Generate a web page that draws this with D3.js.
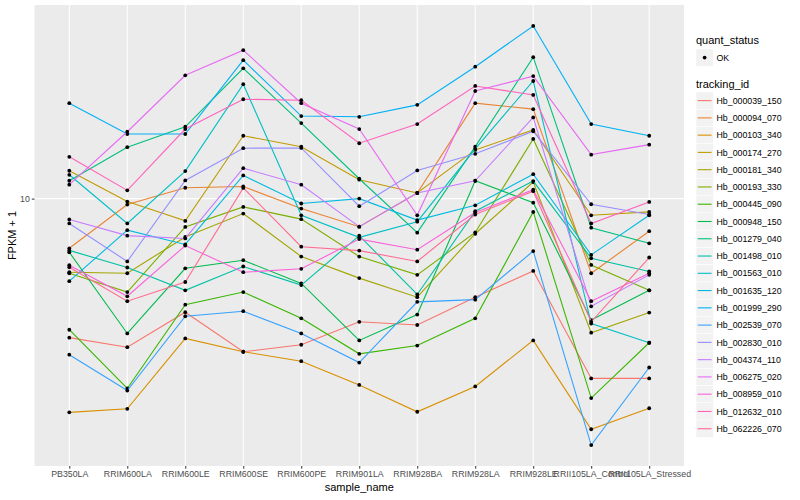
<!DOCTYPE html>
<meta charset="utf-8">
<style>
  body { margin: 0; background: #fff; }
  text { font-family: "Liberation Sans", Arial, Helvetica, sans-serif; }
  .axis .domain { display: none; }
  .axis line { stroke: #333333; }
  .axis text { fill: #4D4D4D; font-size: 8.8px; }
</style>
<svg width="800" height="500"></svg>
<script src="https://d3js.org/d3.v7.min.js"></script>
<script>
  var samples = ["PB350LA", "RRIM600LA", "RRIM600LE", "RRIM600SE", "RRIM600PE", "RRIM901LA",
    "RRIM928BA", "RRIM928LA", "RRIM928LE", "RRII105LA_Control", "RRII105LA_Stressed"];

  var trackingIds = ["Hb_000039_150", "Hb_000094_070", "Hb_000103_340", "Hb_000174_270",
    "Hb_000181_340", "Hb_000193_330", "Hb_000445_090", "Hb_000948_150", "Hb_001279_040",
    "Hb_001498_010", "Hb_001563_010", "Hb_001635_120", "Hb_001999_290", "Hb_002539_070",
    "Hb_002830_010", "Hb_004374_110", "Hb_006275_020", "Hb_008959_010", "Hb_012632_010",
    "Hb_062226_070"];

  // FPKM + 1, one row per tracking_id, one value per sample
  var fpkm = [
    [4.47, 4.23, 5.18, 4.12, 4.29, 4.90, 4.81, 5.65, 6.58, 3.53, 3.53],
    [7.50, 9.66, 10.65, 10.73, 9.44, 8.50, 10.33, 17.38, 16.79, 6.49, 8.28],
    [2.90, 2.96, 4.45, 4.12, 3.90, 3.40, 2.91, 3.37, 4.40, 2.63, 2.97],
    [11.75, 9.83, 8.79, 14.39, 13.51, 11.16, 10.33, 13.26, 14.88, 9.08, 9.26],
    [6.53, 6.49, 8.01, 9.17, 7.15, 6.31, 5.65, 8.16, 11.01, 4.60, 5.17],
    [6.49, 5.82, 8.49, 9.53, 8.88, 7.15, 6.43, 8.22, 14.13, 6.81, 5.88],
    [4.68, 3.33, 5.41, 5.82, 5.00, 4.07, 4.27, 5.00, 9.26, 3.15, 4.34],
    [7.33, 4.58, 6.68, 7.00, 6.12, 4.40, 5.11, 11.09, 9.77, 4.95, 5.88],
    [11.09, 13.47, 15.16, 21.27, 15.49, 11.22, 8.21, 13.51, 22.69, 8.45, 7.72],
    [7.41, 6.71, 5.88, 6.75, 6.06, 8.07, 5.74, 9.30, 11.07, 7.08, 6.56],
    [11.48, 8.66, 11.73, 19.40, 9.08, 7.99, 8.75, 13.34, 19.76, 4.85, 4.34],
    [6.20, 8.33, 7.67, 11.44, 9.72, 10.00, 8.83, 9.62, 11.52, 7.22, 9.08],
    [17.38, 14.54, 14.54, 22.30, 16.13, 16.06, 17.21, 21.47, 27.18, 15.40, 14.39],
    [4.05, 3.29, 5.06, 5.21, 4.58, 3.87, 5.50, 5.57, 7.38, 2.40, 3.76],
    [8.66, 6.95, 11.11, 13.39, 13.41, 9.57, 11.77, 12.96, 14.77, 9.68, 9.12],
    [8.86, 8.07, 7.94, 11.93, 10.84, 8.50, 10.33, 11.09, 16.00, 5.36, 6.43],
    [10.84, 14.73, 20.42, 23.62, 17.38, 14.96, 9.08, 18.65, 20.33, 12.90, 13.67],
    [6.80, 5.68, 7.62, 6.53, 6.66, 7.91, 7.44, 9.23, 10.53, 5.52, 6.49],
    [12.74, 10.49, 14.96, 17.78, 17.68, 13.78, 15.40, 19.20, 18.23, 8.66, 9.81],
    [6.72, 5.52, 6.17, 10.64, 7.57, 7.40, 6.95, 9.12, 10.44, 4.90, 7.11]
  ];

  var yTicks = [10];
  var quantStatus = ["OK"];

  var hues = ["#F8766D", "#EA8331", "#D89000", "#C09B00", "#A3A500", "#7CAE00", "#39B600",
    "#00BB4E", "#00BF7D", "#00C1A3", "#00BFC4", "#00BAE0", "#00B0F6", "#35A2FF", "#9590FF",
    "#C77CFF", "#E76BF3", "#FA62DB", "#FF62BC", "#FF6C91"];

  var svg = d3.select("svg"),
    panel = {left: 34.5, right: 684, top: 5, bottom: 466};

  var x = d3.scalePoint()
    .domain(samples)
    .range([panel.left, panel.right])
    .padding(0.6);

  // log scale, limits = data range expanded by 5% like ggplot
  var all = d3.merge(fpkm),
    lo = Math.log10(d3.min(all)),
    hi = Math.log10(d3.max(all)),
    pad = (hi - lo) * 0.05;

  var y = d3.scaleLog()
    .domain([Math.pow(10, lo - pad), Math.pow(10, hi + pad)])
    .range([panel.bottom, panel.top]);

  var color = d3.scaleOrdinal(trackingIds, hues);

  // panel background + grid
  svg.append("rect")
    .attr("x", panel.left).attr("y", panel.top)
    .attr("width", panel.right - panel.left)
    .attr("height", panel.bottom - panel.top)
    .attr("fill", "#EBEBEB");

  svg.append("g").selectAll("line")
    .data(samples)
    .enter().append("line")
    .attr("x1", function(d) { return x(d); })
    .attr("x2", function(d) { return x(d); })
    .attr("y1", panel.top).attr("y2", panel.bottom)
    .attr("stroke", "#fff").attr("stroke-width", 1.1);

  svg.append("g").selectAll("line")
    .data(yTicks)
    .enter().append("line")
    .attr("x1", panel.left).attr("x2", panel.right)
    .attr("y1", function(d) { return y(d); })
    .attr("y2", function(d) { return y(d); })
    .attr("stroke", "#fff").attr("stroke-width", 1.1);

  // series
  var line = d3.line()
    .x(function(d, i) { return x(samples[i]); })
    .y(function(d) { return y(d); });

  var series = svg.append("g").selectAll("g")
    .data(trackingIds)
    .enter().append("g");

  series.append("path")
    .attr("d", function(d, i) { return line(fpkm[i]); })
    .attr("fill", "none")
    .attr("stroke", function(d) { return color(d); })
    .attr("stroke-width", 1.1);

  series.each(function(d, i) {
    d3.select(this).selectAll("circle")
      .data(fpkm[i])
      .enter().append("circle")
      .attr("cx", function(v, j) { return x(samples[j]); })
      .attr("cy", function(v) { return y(v); })
      .attr("r", 1.9)
      .attr("fill", "#000");
  });

  // axes
  svg.append("g")
    .attr("class", "axis")
    .attr("transform", "translate(" + panel.left + ",0)")
    .call(d3.axisLeft(y).tickValues(yTicks).tickFormat(d3.format("d")).tickSize(2.7).tickPadding(2));

  svg.append("g")
    .attr("class", "axis")
    .attr("transform", "translate(0," + panel.bottom + ")")
    .call(d3.axisBottom(x).tickSize(2.7).tickPadding(2));

  svg.append("text")
    .attr("x", (panel.left + panel.right) / 2)
    .attr("y", 491)
    .attr("text-anchor", "middle")
    .attr("font-size", "11px")
    .text("sample_name");

  svg.append("text")
    .attr("transform", "translate(16," + (panel.top + panel.bottom) / 2 + ") rotate(-90)")
    .attr("text-anchor", "middle")
    .attr("font-size", "11px")
    .text("FPKM + 1");

  // legends
  var lx = 696;

  svg.append("text")
    .attr("x", lx).attr("y", 44)
    .attr("font-size", "11px")
    .text("quant_status");

  var q = svg.append("g").selectAll("g")
    .data(quantStatus)
    .enter().append("g")
    .attr("transform", function(d, i) { return "translate(" + lx + "," + (49 + i * 17.3) + ")"; });

  q.append("rect")
    .attr("width", 17.3).attr("height", 17.3)
    .attr("fill", "#F2F2F2").attr("stroke", "#fff").attr("stroke-width", 0.5);
  q.append("circle")
    .attr("cx", 8.6).attr("cy", 8.6).attr("r", 1.9).attr("fill", "#000");
  q.append("text")
    .attr("x", 20.5).attr("y", 11.8)
    .attr("font-size", "8.8px")
    .text(function(d) { return d; });

  svg.append("text")
    .attr("x", lx).attr("y", 88)
    .attr("font-size", "11px")
    .text("tracking_id");

  var key = svg.append("g").selectAll("g")
    .data(trackingIds)
    .enter().append("g")
    .attr("transform", function(d, i) { return "translate(" + lx + "," + (92 + i * 17.27) + ")"; });

  key.append("rect")
    .attr("width", 17.3).attr("height", 17.27)
    .attr("fill", "#F2F2F2").attr("stroke", "#fff").attr("stroke-width", 0.5);
  key.append("line")
    .attr("x1", 1.7).attr("x2", 15.6)
    .attr("y1", 8.6).attr("y2", 8.6)
    .attr("stroke", function(d) { return color(d); })
    .attr("stroke-width", 1.1);
  key.append("text")
    .attr("x", 20.5).attr("y", 11.8)
    .attr("font-size", "8.8px")
    .text(function(d) { return d; });
</script>
